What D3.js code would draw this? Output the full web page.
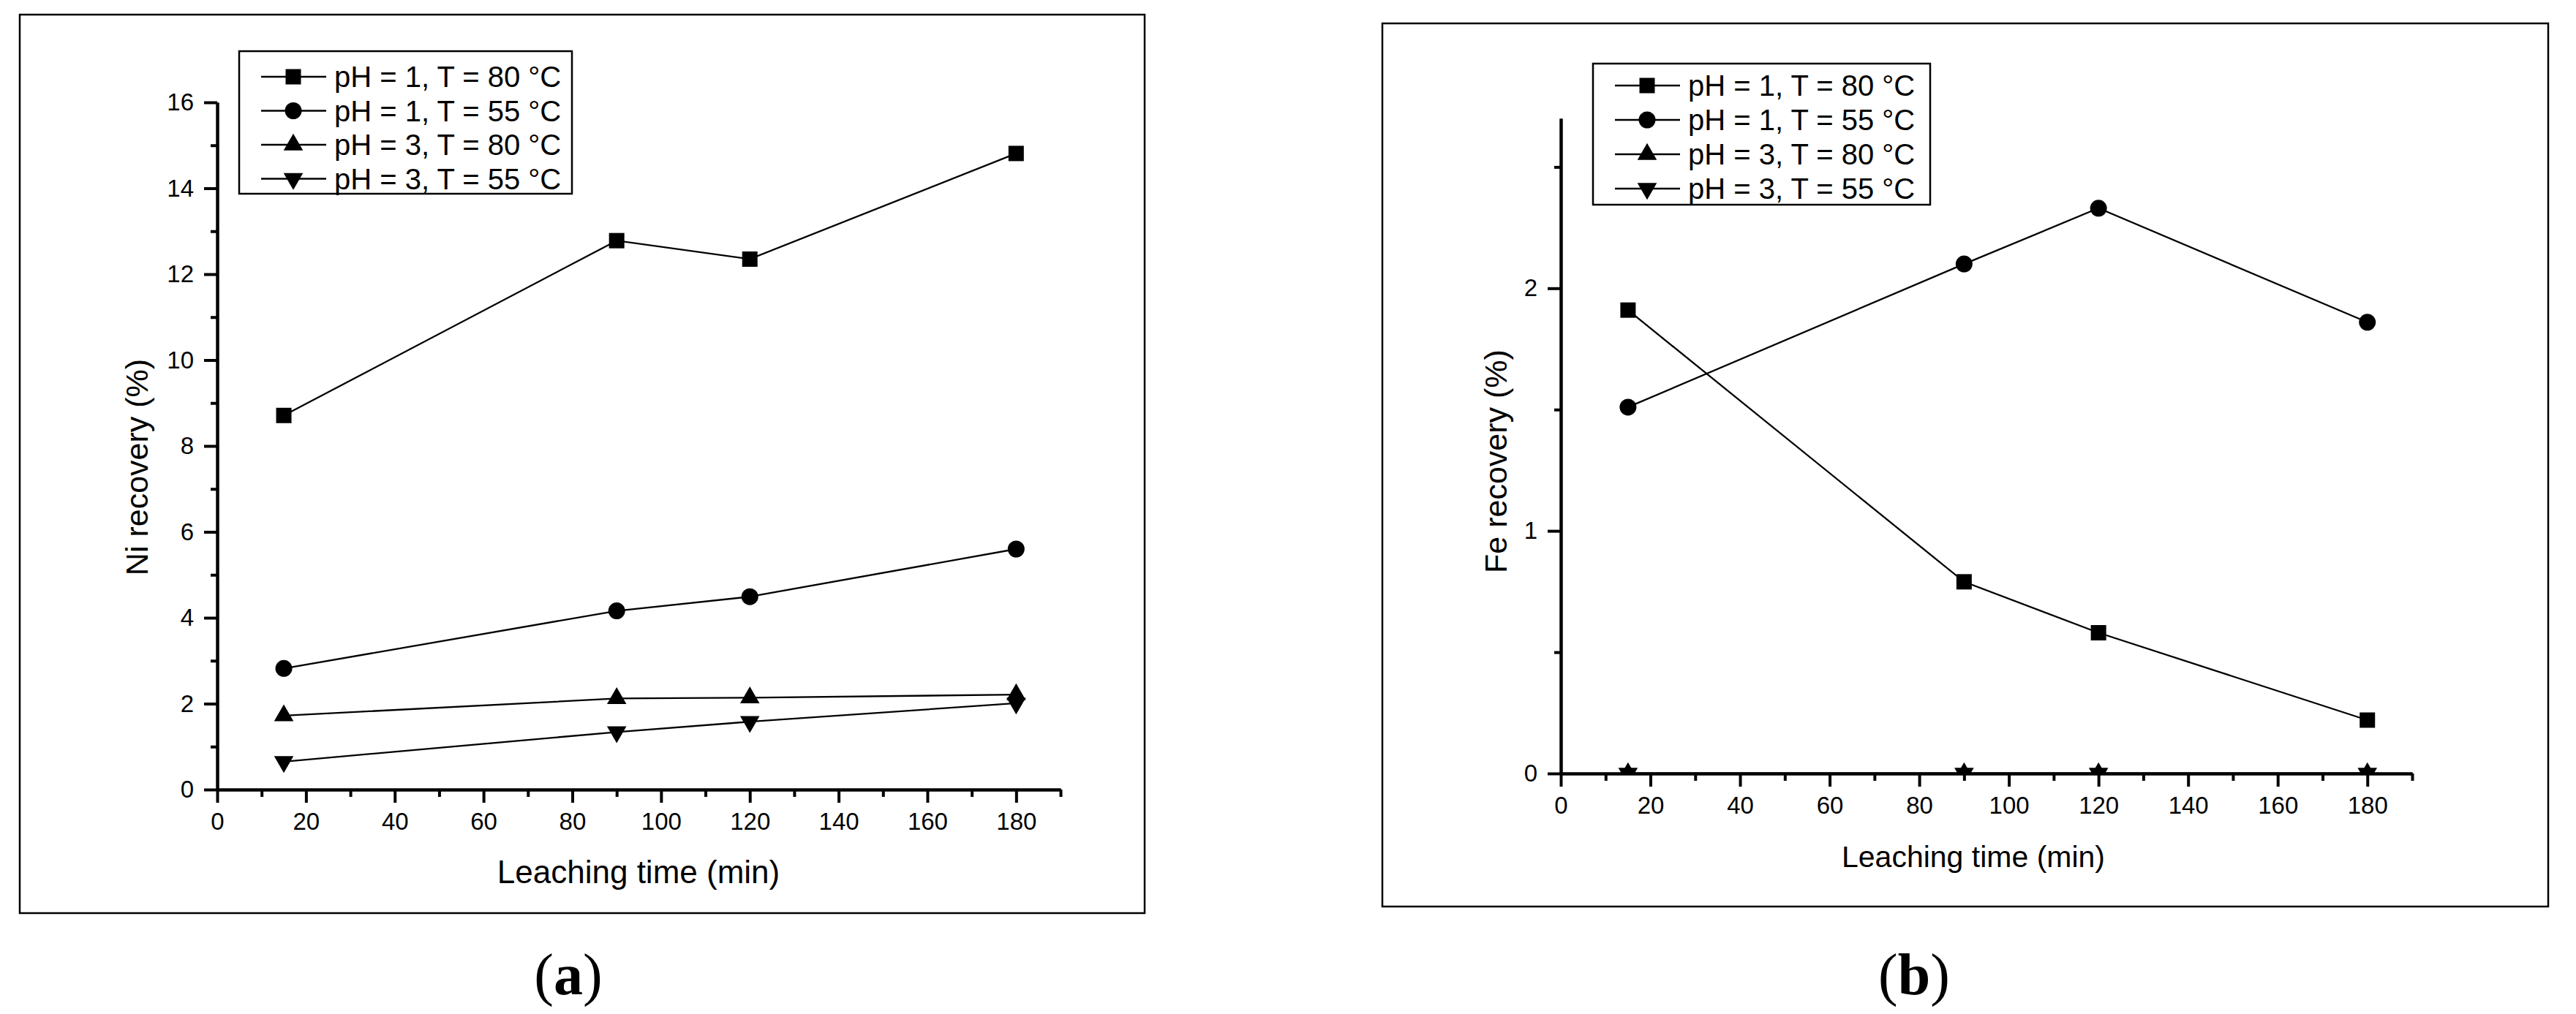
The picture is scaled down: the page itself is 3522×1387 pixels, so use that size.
<!DOCTYPE html>
<html>
<head>
    <title>Ni and Fe recovery</title>
    <script src="https://d3js.org/d3.v7.min.js"></script>
    <style>
        body { margin: 0; background: white; }
        text { font-family: "Liberation Sans", Arial, sans-serif; fill: black; }
    </style>
</head>
<body>
    <svg id="chart" width="3522" height="1387"></svg>

    <script>
        // leaching times (min)
        const times = [15, 90, 120, 180]
        const seriesLabels = ["pH = 1, T = 80 °C", "pH = 1, T = 55 °C", "pH = 3, T = 80 °C", "pH = 3, T = 55 °C"]

        // Ni recovery (%)
        const niPH1T80 = [8.71, 12.78, 12.35, 14.81]
        const niPH1T55 = [2.82, 4.16, 4.49, 5.60]
        const niPH3T80 = [1.72, 2.12, 2.14, 2.21]
        const niPH3T55 = [0.65, 1.34, 1.58, 2.01]

        // Fe recovery (%)
        const fePH1T80 = [1.91, 0.79, 0.58, 0.22]
        const fePH1T55 = [1.51, 2.10, 2.33, 1.86]
        const fePH3T80 = [0, 0, 0, 0]
        const fePH3T55 = [0, 0, 0, 0]

        const xTicks = [0, 20, 40, 60, 80, 100, 120, 140, 160, 180]
        const xMinor = [10, 30, 50, 70, 90, 110, 130, 150, 170, 190]
        const niTicks = [0, 2, 4, 6, 8, 10, 12, 14, 16]
        const niMinor = [1, 3, 5, 7, 9, 11, 13, 15]
        const feTicks = [0, 1, 2]
        const feMinor = [0.5, 1.5, 2.5]

        const svg = d3.select("#chart")

        const downTriangle = {
            draw(ctx, size) {
                const y = -Math.sqrt(size / (Math.sqrt(3) * 3))
                ctx.moveTo(0, -2 * y)
                ctx.lineTo(-Math.sqrt(3) * y, y)
                ctx.lineTo(Math.sqrt(3) * y, y)
                ctx.closePath()
            }
        }
        const symbols = [
            d3.symbol(d3.symbolSquare, 441),
            d3.symbol(d3.symbolCircle, 415),
            d3.symbol(d3.symbolTriangle, 306),
            d3.symbol(downTriangle, 306)
        ]

        function drawPanel(p) {
            const g = svg.append("g")

            g.append("rect")
                .attr("x", p.frame[0]).attr("y", p.frame[1])
                .attr("width", p.frame[2] - p.frame[0])
                .attr("height", p.frame[3] - p.frame[1])
                .attr("fill", "none").attr("stroke", "black").attr("stroke-width", 2.5)

            const x = d3.scaleLinear([0, 190], p.xRange)
            const y = d3.scaleLinear(p.yDomain, p.yRange)

            // data is clipped at the axes, so points sitting on 0 show only their upper half
            g.append("clipPath").attr("id", p.id + "clip")
                .append("rect")
                .attr("x", p.xRange[0] - 30).attr("y", p.yRange[1] - 30)
                .attr("width", p.xRange[1] - p.xRange[0] + 60)
                .attr("height", p.yRange[0] - p.yRange[1] + 30)

            const data = g.append("g").attr("clip-path", "url(#" + p.id + "clip)")
            const line = d3.line().x((d, i) => x(times[i])).y(d => y(d))

            p.series.forEach((s, k) => {
                data.append("path")
                    .attr("d", line(s))
                    .attr("fill", "none").attr("stroke", "black").attr("stroke-width", 2.3)
            })
            p.series.forEach((s, k) => {
                data.selectAll(".m" + k)
                    .data(s).enter()
                    .append("path")
                    .attr("transform", (d, i) => "translate(" + x(times[i]) + "," + y(d) + ")")
                    .attr("d", symbols[k]())
                    .attr("fill", "black")
            })

            // axes, minor ticks first then labelled majors
            const fmt = d3.format("~g")
            const xAxis = g.append("g").attr("transform", "translate(0," + p.yRange[0] + ")")
            xAxis.call(d3.axisBottom(x).tickValues(xMinor).tickSize(10).tickSizeOuter(0).tickFormat(""))
            xAxis.append("g").call(d3.axisBottom(x).tickValues(xTicks).tickSize(18).tickSizeOuter(0).tickPadding(14).tickFormat(fmt))

            const yAxis = g.append("g").attr("transform", "translate(" + p.xRange[0] + ",0)")
            yAxis.call(d3.axisLeft(y).tickValues(p.yMinor).tickSize(9).tickSizeOuter(0).tickFormat(""))
            yAxis.append("g").call(d3.axisLeft(y).tickValues(p.yTicks).tickSize(18).tickSizeOuter(0).tickPadding(14).tickFormat(fmt))

            g.selectAll(".domain").attr("stroke-width", 4).attr("stroke", "black")
            g.selectAll(".tick line").attr("stroke-width", 4).attr("stroke", "black")
            g.selectAll(".tick text")
                .style("font-family", "'Liberation Sans', Arial, sans-serif")
                .style("font-size", "33px").attr("fill", "black")

            // titles
            g.append("text")
                .attr("transform", "translate(" + p.yTitlePos[0] + "," + p.yTitlePos[1] + ") rotate(-90)")
                .attr("text-anchor", "middle").attr("dy", "0.35em")
                .style("font-size", "43px")
                .text(p.yTitle)
            g.append("text")
                .attr("x", p.xTitlePos[0]).attr("y", p.xTitlePos[1])
                .attr("text-anchor", "middle")
                .style("font-size", p.xTitleSize + "px")
                .text("Leaching time (min)")

            // legend
            const lg = g.append("g")
            lg.append("rect")
                .attr("x", p.legend[0]).attr("y", p.legend[1])
                .attr("width", p.legend[2] - p.legend[0])
                .attr("height", p.legend[3] - p.legend[1])
                .attr("fill", "white").attr("stroke", "black").attr("stroke-width", 2.5)
            seriesLabels.forEach((name, k) => {
                const ry = p.legendRow0 + k * p.legendStep
                lg.append("line")
                    .attr("x1", p.legend[0] + 30).attr("x2", p.legend[0] + 119)
                    .attr("y1", ry).attr("y2", ry)
                    .attr("stroke", "black").attr("stroke-width", 2.3)
                lg.append("path")
                    .attr("transform", "translate(" + (p.legend[0] + 74) + "," + ry + ")")
                    .attr("d", symbols[k]())
                    .attr("fill", "black")
                lg.append("text")
                    .attr("x", p.legend[0] + 130).attr("y", ry + 14)
                    .style("font-size", "40px")
                    .text(name)
            })

            // panel tag
            const tag = g.append("text")
                .attr("x", p.tagPos[0]).attr("y", p.tagPos[1])
                .attr("text-anchor", "middle")
                .style("font-family", "'Liberation Serif', 'Times New Roman', serif")
                .style("font-size", "80px")
            tag.append("tspan").text("(")
            tag.append("tspan").attr("font-weight", "bold").text(p.tag)
            tag.append("tspan").text(")")
        }

        drawPanel({
            id: "a",
            frame: [27, 20, 1565, 1249],
            xRange: [297, 1450],
            yDomain: [0, 16], yRange: [1080, 140],
            yTicks: niTicks, yMinor: niMinor,
            series: [niPH1T80, niPH1T55, niPH3T80, niPH3T55],
            yTitle: "Ni recovery (%)", yTitlePos: [187, 639],
            xTitlePos: [873, 1208], xTitleSize: 44,
            legend: [327, 70, 782, 265], legendRow0: 105, legendStep: 46.5,
            tag: "a", tagPos: [777, 1360]
        })

        drawPanel({
            id: "b",
            frame: [1890, 32, 3484, 1240],
            xRange: [2134, 3298],
            yDomain: [0, 2.7], yRange: [1058, 162],
            yTicks: feTicks, yMinor: feMinor,
            series: [fePH1T80, fePH1T55, fePH3T80, fePH3T55],
            yTitle: "Fe recovery (%)", yTitlePos: [2045, 631],
            xTitlePos: [2698, 1186], xTitleSize: 41,
            legend: [2178, 87, 2639, 280], legendRow0: 117, legendStep: 47,
            tag: "b", tagPos: [2617, 1360]
        })
    </script>
</body>
</html>
